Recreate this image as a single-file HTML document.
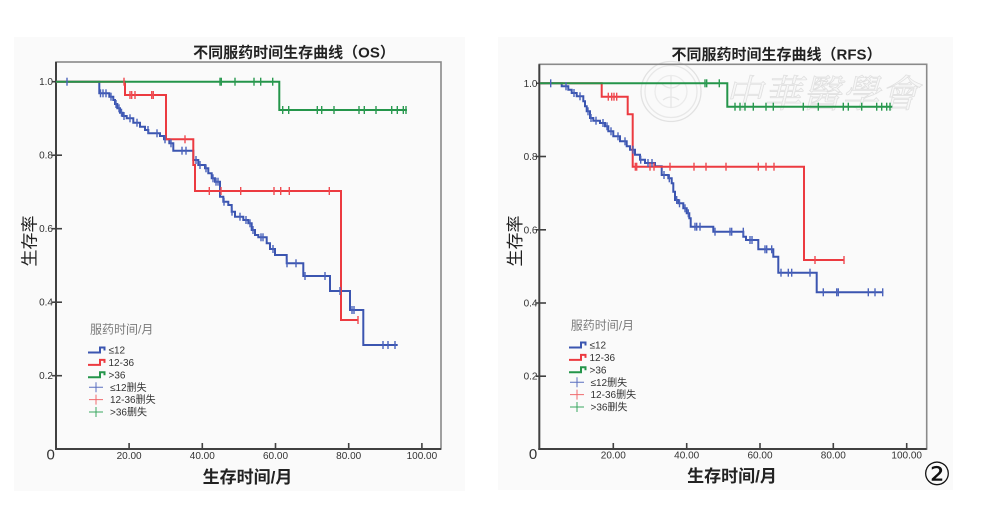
<!DOCTYPE html>
<html><head><meta charset="utf-8">
<style>
html,body{margin:0;padding:0;background:#fff;}
svg{display:block;}
text{font-family:"Liberation Sans","Noto Sans CJK SC",sans-serif;}
</style></head><body>
<svg id="s" width="981" height="511" viewBox="0 0 981 511" xmlns="http://www.w3.org/2000/svg">
<rect x="0" y="0" width="981" height="511" fill="#ffffff"/>
<rect x="14" y="37" width="451" height="454" fill="#fafafa"/>
<rect x="498" y="37" width="455" height="453" fill="#fafafa"/>

<!-- ================= LEFT CHART ================= -->
<text x="294" y="57.6" text-anchor="middle" font-size="15" font-weight="bold" fill="#222">不同服药时间生存曲线（OS）</text>
<rect x="56" y="62" width="385" height="387" fill="none" stroke="#8a8a8a" stroke-width="1.6"/>
<g stroke="#404040" stroke-width="2">
<line x1="56" y1="62" x2="56" y2="450"/>
<line x1="55" y1="449" x2="441" y2="449"/>
</g>
<g stroke="#404040" stroke-width="1.6">
<line x1="52" y1="81.7" x2="62" y2="81.7"/>
<line x1="52" y1="155.2" x2="62" y2="155.2"/>
<line x1="52" y1="228.7" x2="62" y2="228.7"/>
<line x1="52" y1="302.2" x2="62" y2="302.2"/>
<line x1="52" y1="375.7" x2="62" y2="375.7"/>
<line x1="129.1" y1="443" x2="129.1" y2="449"/>
<line x1="202.3" y1="443" x2="202.3" y2="449"/>
<line x1="275.5" y1="443" x2="275.5" y2="449"/>
<line x1="348.7" y1="443" x2="348.7" y2="449"/>
<line x1="421.9" y1="443" x2="421.9" y2="449"/>
</g>
<g font-size="10" fill="#333" text-anchor="end">
<text x="53" y="85.2">1.0</text>
<text x="53" y="158.7">0.8</text>
<text x="53" y="232.2">0.6</text>
<text x="53" y="305.7">0.4</text>
<text x="53" y="379.2">0.2</text>
</g>
<text x="50.7" y="459.5" text-anchor="middle" font-size="15" fill="#333">0</text>
<g font-size="10" fill="#333" text-anchor="middle">
<text x="129.1" y="459">20.00</text>
<text x="202.3" y="459">40.00</text>
<text x="275.5" y="459">60.00</text>
<text x="348.7" y="459">80.00</text>
<text x="421.9" y="459">100.00</text>
</g>
<text transform="translate(35.5,241) rotate(-90)" text-anchor="middle" font-size="17" fill="#222">生存率</text>
<text x="247.5" y="483" text-anchor="middle" font-size="17" font-weight="bold" fill="#222">生存时间/月</text>

<!-- curves left -->
<path id="lb" d="M56,81.7 H99.3 V93.3 H109.3 V96.7 H113.3 V100 H115 V104 H117.3 V108.3 H120 V112.7 H122.7 V116 H126.7 V118.3 H133.3 V122.7 H140 V126.7 H145 V130 H148.3 V133.3 H160 V136 H164 V139.3 H169.3 V143.3 H173.3 V150.7 H193.3 V160 H198.3 V165 H205 V168.3 H208.3 V173.3 H211.7 V178.3 H215 V181.7 H220 V196.7 H223.3 V201.7 H228.3 V205 H231.7 V211.7 H235 V216.7 H243.3 V220 H248.3 V223.3 H251.7 V230 H255 V235 H258.3 V237.3 H266.7 V243.3 H270 V249 H275 V255 H286.7 V263.3 H303.3 V276 H330 V291 H350 V310 H363.3 V345 H397.7" fill="none" stroke="#3b55b0" stroke-width="2"/>
<path id="lr" d="M56,81.7 H125 V95 H166 V139.3 H193.3 V165 H195 V191 H341 V320 H358.3" fill="none" stroke="#ec3a40" stroke-width="2"/>
<path id="lg" d="M56,81.7 H279.3 V110 H407" fill="none" stroke="#24954a" stroke-width="2"/>

<!-- legend left -->
<text x="90" y="333.5" font-size="12" fill="#7a7a7a">服药时间/月</text>
<g fill="none" stroke-width="2">
<path d="M88,352.5 H100 V347.5 H104.5 V350.5" stroke="#3b55b0"/>
<path d="M88,364.9 H100 V359.9 H104.5 V362.9" stroke="#ec3a40"/>
<path d="M88,377.3 H100 V372.3 H104.5 V375.3" stroke="#24954a"/>
</g>
<g fill="none" stroke-width="1">
<path d="M89,387.2 H103 M96,382.2 V392.2" stroke="#5a6fc0"/>
<path d="M89,399.6 H103 M96,394.6 V404.6" stroke="#f06a6e"/>
<path d="M89,412 H103 M96,407 V417" stroke="#3aa860"/>
</g>
<g font-size="10" fill="#333">
<text x="108.5" y="353.6">≤12</text>
<text x="108.5" y="366">12-36</text>
<text x="108.5" y="378.4">&gt;36</text>
<text x="110" y="390.8">≤12删失</text>
<text x="110" y="403.2">12-36删失</text>
<text x="110" y="415.6">&gt;36删失</text>
</g>

<!-- ================= RIGHT CHART ================= -->
<!-- watermark -->
<g fill="none" stroke="#e2e2e2" stroke-width="1.3">
<circle cx="671" cy="91.5" r="30"/>
<circle cx="671" cy="91.5" r="26" stroke="#e8e8e8"/>
<circle cx="671" cy="91.5" r="16" stroke="#ebebeb"/>
<path d="M671,76 V108 M662,84 Q671,92 680,84 M663,100 Q671,94 679,100" stroke="#e6e6e6"/>
</g>
<text x="822" y="107" text-anchor="middle" font-size="38" font-style="italic" fill="#f7f7f7" stroke="#e0e0e0" stroke-width="0.8" style="font-family:'Noto Serif CJK SC','Liberation Serif',serif;" letter-spacing="1">中華醫學會</text>

<text x="776.5" y="59.6" text-anchor="middle" font-size="15" font-weight="bold" fill="#222">不同服药时间生存曲线（RFS）</text>
<rect x="539.3" y="64.3" width="387.4" height="384.7" fill="none" stroke="#8a8a8a" stroke-width="1.6"/>
<g stroke="#404040" stroke-width="2">
<line x1="539.3" y1="64.3" x2="539.3" y2="450"/>
<line x1="538.3" y1="449" x2="926.7" y2="449"/>
</g>
<g stroke="#404040" stroke-width="1.6">
<line x1="536" y1="83.3" x2="546" y2="83.3"/>
<line x1="536" y1="156.5" x2="546" y2="156.5"/>
<line x1="536" y1="229.8" x2="546" y2="229.8"/>
<line x1="536" y1="303" x2="546" y2="303"/>
<line x1="536" y1="376.2" x2="546" y2="376.2"/>
<line x1="613.3" y1="443" x2="613.3" y2="449"/>
<line x1="686.7" y1="443" x2="686.7" y2="449"/>
<line x1="760" y1="443" x2="760" y2="449"/>
<line x1="833.3" y1="443" x2="833.3" y2="449"/>
<line x1="906.7" y1="443" x2="906.7" y2="449"/>
</g>
<g font-size="10" fill="#333" text-anchor="end">
<text x="537.5" y="86.8">1.0</text>
<text x="537.5" y="160">0.8</text>
<text x="537.5" y="233.3">0.6</text>
<text x="537.5" y="306.5">0.4</text>
<text x="537.5" y="379.7">0.2</text>
</g>
<text x="533" y="459" text-anchor="middle" font-size="15" fill="#333">0</text>
<g font-size="10" fill="#333" text-anchor="middle">
<text x="613.3" y="458.5">20.00</text>
<text x="686.7" y="458.5">40.00</text>
<text x="760" y="458.5">60.00</text>
<text x="833.3" y="458.5">80.00</text>
<text x="906.7" y="458.5">100.00</text>
</g>
<text transform="translate(521,241) rotate(-90)" text-anchor="middle" font-size="17" fill="#222">生存率</text>
<text x="732" y="482" text-anchor="middle" font-size="17" font-weight="bold" fill="#222">生存时间/月</text>

<!-- curves right -->
<path id="rb" d="M540,83.3 H561.7 V86.3 H568.3 V89.7 H571.7 V93 H576.7 V96.3 H583.3 V101.3 H585 V106.3 H586.7 V111.3 H590 V118 H593.3 V120.7 H600 V123 H605 V126.3 H608.3 V131.3 H613.3 V136.3 H620 V141.3 H626.7 V146.3 H630 V149.7 H635 V154.7 H640 V159.7 H645 V163 H655 V166.3 H661.7 V175 H668.3 V178.3 H671.7 V183.3 H673.3 V191.7 H675 V200 H678.3 V203.3 H683.3 V208.3 H686.7 V213.3 H689.3 V218.3 H690.7 V226.7 H713.3 V231.7 H743.3 V236.7 H746 V240 H758.3 V249.3 H773.3 V256.7 H778.3 V272.7 H816.7 V292.3 H883.3" fill="none" stroke="#3b55b0" stroke-width="2"/>
<path id="rr" d="M540,83.3 H601.7 V96.7 H627.7 V114.3 H632.7 V166.7 H804 V260 H844" fill="none" stroke="#ec3a40" stroke-width="2"/>
<path id="rg" d="M540,83.3 H727.3 V106.7 H892.3" fill="none" stroke="#24954a" stroke-width="2"/>

<!-- legend right -->
<text x="570.7" y="329.5" font-size="12" fill="#7a7a7a">服药时间/月</text>
<g fill="none" stroke-width="2">
<path d="M569,347.5 H581 V342.5 H585.5 V345.5" stroke="#3b55b0"/>
<path d="M569,359.9 H581 V354.9 H585.5 V357.9" stroke="#ec3a40"/>
<path d="M569,372.3 H581 V367.3 H585.5 V370.3" stroke="#24954a"/>
</g>
<g fill="none" stroke-width="1">
<path d="M570,382.2 H584 M577,377.2 V387.2" stroke="#5a6fc0"/>
<path d="M570,394.6 H584 M577,389.6 V399.6" stroke="#f06a6e"/>
<path d="M570,407 H584 M577,402 V412" stroke="#3aa860"/>
</g>
<g font-size="10" fill="#333">
<text x="589.5" y="348.6">≤12</text>
<text x="589.5" y="361">12-36</text>
<text x="589.5" y="373.4">&gt;36</text>
<text x="590.5" y="385.8">≤12删失</text>
<text x="590.5" y="398.2">12-36删失</text>
<text x="590.5" y="410.6">&gt;36删失</text>
</g>

<text x="937" y="485" text-anchor="middle" font-size="32" fill="#111" style="font-family:'DejaVu Sans','Noto Sans CJK SC',sans-serif;">②</text>
<g id="ticks"></g>
</svg>
<script>
(function(){
var NS="http://www.w3.org/2000/svg";
var g=document.getElementById('ticks');
function ticks(id,xs,color){
  var d=document.getElementById(id).getAttribute('d');
  var tok=d.match(/[MHV]|-?[\d.]+/g);
  var segs=[],cx=0,cy=0,i=0;
  while(i<tok.length){
    var t=tok[i];
    if(t==='M'){cx=+tok[i+1];cy=+tok[i+2];i+=3;}
    else if(t==='H'){var nx=+tok[i+1];segs.push([cx,nx,cy]);cx=nx;i+=2;}
    else if(t==='V'){cy=+tok[i+1];i+=2;}
    else i++;
  }
  xs.forEach(function(x){
    var y=segs[segs.length-1][2];
    for(var k=0;k<segs.length;k++){ if(x>=segs[k][0]-0.01&&x<=segs[k][1]+0.01){y=segs[k][2];break;} }
    var l=document.createElementNS(NS,'line');
    l.setAttribute('x1',x);l.setAttribute('x2',x);
    l.setAttribute('y1',y-4);l.setAttribute('y2',y+4);
    l.setAttribute('stroke',color);l.setAttribute('stroke-width','1.4');
    g.appendChild(l);
  });
}
ticks('lb',[67,100.5,103,106,111,116,119,121.5,124,130,137,148,157,165,171,182,186,196,200,206,213,216,218,224,232,240,246,250,253,261,263,273,287,296,305,325,340,352,354,383,388,395],'#4a62bb');
ticks('lr',[124,130,131.7,135,151.7,153.3,185,209.3,221,240.7,274,280.7,289.3,329.3,358],'#ef4a50');
ticks('lg',[220,221.3,235,254,260.7,272.7,282.7,288.7,317.3,321.7,334,359,364.3,376,391.7,397.3,403.3,406],'#2a9a50');
ticks('rb',[550.7,566,574,580,588,591,596,603,607,611,618,625,633,640.7,648,652,664,669.3,676.7,679.5,685,688.3,695,696.7,700,715,730,731.7,743.3,750,752,765,766.7,771.7,781,788.3,791.7,810,823.3,836.7,838.3,868.3,875,882.7],'#4a62bb');
ticks('rr',[608.3,611.7,614,616.7,635.3,636.7,650,654,670,694,706,726,758.3,766,774,815,844],'#ef4a50');
ticks('rg',[705,706.7,719.3,735,740,745,753.3,766,773.3,803.3,818.3,843.3,848.3,861.7,876.7,881.7,886.7,890],'#2a9a50');
})();
</script>
</body></html>
